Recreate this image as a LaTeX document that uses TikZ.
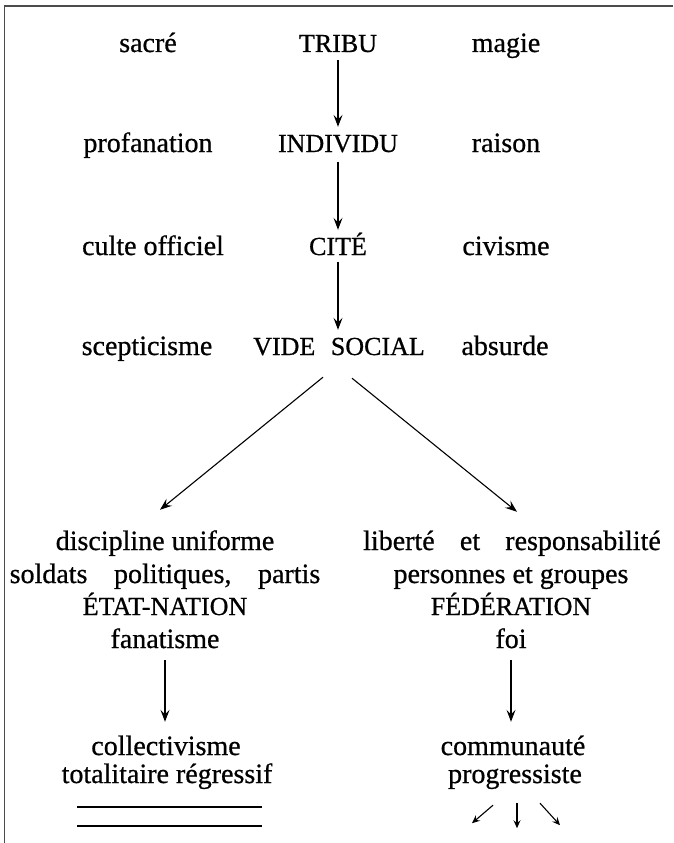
\documentclass[tikz,border=0pt]{standalone}
\usepackage{fontspec}
\setmainfont{Liberation Serif}[FakeBold=0.7]
\newfontfamily\txtfont[FakeBold=0.7]{Liberation Serif}
\usetikzlibrary{arrows.meta}
\begin{document}
\begin{tikzpicture}[x=1pt,y=-1pt,
  lc/.style={font=\txtfont\fontsize{28}{30}\selectfont, inner sep=0pt, anchor=base, text height=19pt, text depth=0pt},
  uc/.style={font=\txtfont\fontsize{26}{28}\selectfont, inner sep=0pt, anchor=base, text height=17pt, text depth=0pt},
  arr/.style={line width=1.1pt, -{Stealth[length=12pt,width=9pt,inset=4.5pt]}},
  sarr/.style={line width=1.1pt, -{Stealth[length=8pt,width=7pt,inset=3pt]}},
  rule/.style={line width=1.6pt},
  frame/.style={line width=1.8pt, black!70}]
\useasboundingbox (0,0) rectangle (673,843);
\draw[frame] (4.5,843) -- (4.5,6) -- (673,6);

% rows
\node[lc] (sacre) at (148,52) {sacré};
\node[uc] (tribu) at (338,52) {TRIBU};
\node[lc] (magie) at (506,52) {magie};

\node[lc] (prof) at (148,152) {profanation};
\node[uc] (indiv) at (338,152) {INDIVIDU};
\node[lc] (raison) at (506,152) {raison};

\node[lc] (culte) at (153,255) {culte officiel};
\node[uc] (cite) at (338,255) {CITÉ};
\node[lc] (civ) at (506,255) {civisme};

\node[lc] (scep) at (147,355) {scepticisme};
\node[uc] (vide) at (339,355) {VIDE\hspace{0.6em}SOCIAL};
\node[lc] (abs) at (505,355) {absurde};

% left block
\node[lc] (disc) at (165,550) {discipline uniforme};
\node[lc] (sold) at (165,583) {soldats\hspace{0.95em}politiques,\hspace{0.95em}partis};
\node[uc] (etat) at (165,615) {ÉTAT-NATION};
\node[lc] (fan) at (165,648) {fanatisme};
\node[lc] (coll) at (166,755) {collectivisme};
\node[lc] (tota) at (167,783) {totalitaire régressif};

% right block
\node[lc] (lib) at (512,550) {liberté\hspace{0.9em}et\hspace{0.9em}responsabilité};
\node[lc] (pers) at (511,583) {personnes et groupes};
\node[uc] (fed) at (511,615) {FÉDÉRATION};
\node[lc] (foi) at (511,648) {foi};
\node[lc] (comm) at (513,755) {communauté};
\node[lc] (prog) at (515,783) {progressiste};

% arrows
\draw[arr, shorten <=8pt, shorten >=8pt] (tribu.south) -- (tribu.south |- indiv.north);
\draw[arr, shorten <=10pt, shorten >=8pt] (indiv.south) -- (indiv.south |- cite.north);
\draw[arr, shorten <=7pt, shorten >=8pt] (cite.south) -- (cite.south |- vide.north);
\draw[arr] ([xshift=-16pt,yshift=-22pt]vide.south) -- ([xshift=-5pt,yshift=21pt]disc.north);
\draw[arr] ([xshift=13pt,yshift=-23pt]vide.south) -- ([xshift=5pt,yshift=19pt]lib.north);
\draw[arr, shorten <=12pt, shorten >=14pt] (fan.south) -- (fan.south |- coll.north);
\draw[arr, shorten <=12pt, shorten >=14pt] (foi.south) -- (foi.south |- comm.north);

\draw[sarr] ([xshift=-22pt,yshift=-22pt]prog.south) -- ([xshift=-43pt,yshift=-40pt]prog.south);
\draw[sarr] ([xshift=2pt,yshift=-20pt]prog.south) -- ([xshift=2pt,yshift=-45pt]prog.south);
\draw[sarr] ([xshift=25pt,yshift=-20pt]prog.south) -- ([xshift=45pt,yshift=-42pt]prog.south);

% double rule
\draw[rule] (77,807) -- (262,807);
\draw[rule] (77,826) -- (262,826);
\end{tikzpicture}
\end{document}
